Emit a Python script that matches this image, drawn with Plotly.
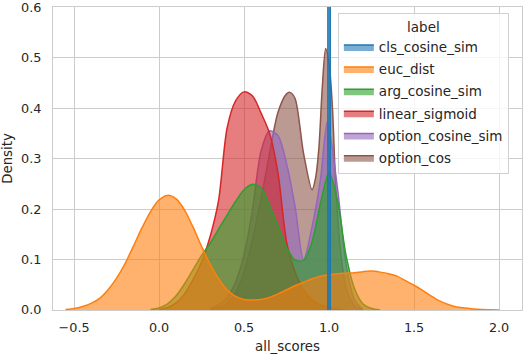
import plotly.graph_objects as go

# density curves (x = all_scores, y = density)
labels = ['cls_cosine_sim', 'euc_dist', 'arg_cosine_sim', 'linear_sigmoid', 'option_cosine_sim', 'option_cos']
colors = ['#1f77b4', '#ff7f0e', '#2ca02c', '#d62728', '#9467bd', '#8c564b']

cls_x = [0.993, 1.0, 1.007]
cls_y = [0.0, 30.0, 0.0]

euc_x = [-0.55, -0.5, -0.45, -0.4, -0.35, -0.3, -0.25, -0.2, -0.15, -0.1, -0.05, 0.0, 0.05, 0.1, 0.15,
         0.2, 0.25, 0.3, 0.35, 0.4, 0.45, 0.5, 0.55, 0.6, 0.65, 0.7, 0.75, 0.8, 0.85, 0.9, 0.95, 1.0,
         1.05, 1.1, 1.15, 1.2, 1.25, 1.3, 1.35, 1.4, 1.45, 1.5, 1.55, 1.6, 1.65, 1.7, 1.75, 1.8, 1.85,
         1.9, 1.95, 2.0]
euc_y = [0.001, 0.003, 0.007, 0.013, 0.023, 0.04, 0.063, 0.092, 0.127, 0.163, 0.195, 0.218, 0.227,
         0.22, 0.198, 0.164, 0.126, 0.091, 0.062, 0.04, 0.027, 0.021, 0.02, 0.021, 0.025, 0.032, 0.04,
         0.048, 0.055, 0.062, 0.067, 0.07, 0.072, 0.073, 0.074, 0.076, 0.077, 0.075, 0.072, 0.067,
         0.058, 0.049, 0.039, 0.028, 0.018, 0.011, 0.006, 0.004, 0.002, 0.001, 0.0005, 0.0]

arg_x = [-0.05, 0.0, 0.05, 0.1, 0.15, 0.2, 0.25, 0.3, 0.35, 0.4, 0.45, 0.5, 0.55, 0.6, 0.65, 0.7,
         0.75, 0.8, 0.85, 0.9, 0.95, 1.0, 1.05, 1.1, 1.15, 1.2, 1.25, 1.3]
arg_y = [0.001, 0.004, 0.012, 0.028, 0.052, 0.08, 0.108, 0.132, 0.16, 0.188, 0.215, 0.238, 0.249,
         0.242, 0.207, 0.166, 0.124, 0.099, 0.098, 0.135, 0.212, 0.273, 0.216, 0.108, 0.042, 0.012,
         0.003, 0.0]

lin_x = [0.0, 0.05, 0.1, 0.15, 0.2, 0.25, 0.3, 0.35, 0.4, 0.45, 0.5, 0.55, 0.6, 0.65, 0.7, 0.75,
         0.8, 0.85, 0.9, 0.95, 1.0, 1.05, 1.1]
lin_y = [0.001, 0.005, 0.014, 0.032, 0.06, 0.095, 0.145, 0.217, 0.36, 0.414, 0.432, 0.424, 0.39,
         0.35, 0.27, 0.135, 0.075, 0.04, 0.02, 0.01, 0.005, 0.002, 0.0]

opt_sim_x = [0.3, 0.35, 0.4, 0.45, 0.5, 0.55, 0.6, 0.65, 0.7, 0.75, 0.8, 0.85, 0.9, 0.95, 0.99,
             1.05, 1.1, 1.15, 1.2]
opt_sim_y = [0.003, 0.01, 0.025, 0.055, 0.11, 0.2, 0.315, 0.355, 0.345, 0.29, 0.205, 0.1, 0.165,
             0.26, 0.373, 0.24, 0.09, 0.02, 0.0]

opt_cos_x = [0.3, 0.35, 0.4, 0.45, 0.5, 0.55, 0.6, 0.65, 0.7, 0.75, 0.77, 0.8, 0.85, 0.9, 0.92,
             0.94, 0.96, 0.98, 1.0, 1.02, 1.04, 1.07, 1.1, 1.15, 1.2]
opt_cos_y = [0.001, 0.004, 0.013, 0.035, 0.075, 0.14, 0.22, 0.31, 0.392, 0.428, 0.431, 0.419, 0.31,
             0.238, 0.26, 0.32, 0.44, 0.518, 0.489, 0.4, 0.24, 0.11, 0.045, 0.008, 0.0]

series = {
    'cls_cosine_sim': (cls_x, cls_y),
    'euc_dist': (euc_x, euc_y),
    'arg_cosine_sim': (arg_x, arg_y),
    'linear_sigmoid': (lin_x, lin_y),
    'option_cosine_sim': (opt_sim_x, opt_sim_y),
    'option_cos': (opt_cos_x, opt_cos_y),
}


def rgba(hex_color, a):
    h = hex_color.lstrip('#')
    return 'rgba(%d,%d,%d,%s)' % (int(h[0:2], 16), int(h[2:4], 16), int(h[4:6], 16), a)


fig = go.Figure()
# seaborn draws the last hue level first, so go in reverse
for i in reversed(range(len(labels))):
    name = labels[i]
    xs, ys = series[name]
    # the cls spike is far too narrow for a spline
    shape = 'linear' if name == 'cls_cosine_sim' else 'spline'
    fig.add_trace(go.Scatter(
        x=xs, y=ys, name=name, mode='lines',
        line=dict(color=colors[i], width=1.5, shape=shape, smoothing=0.8),
        fill='tozeroy', fillcolor=rgba(colors[i], 0.6),
        legendrank=i + 1, legendgroup=name,
    ))

font = 'DejaVu Sans'
fig.update_layout(
    width=524, height=356,
    margin=dict(l=53, r=2, t=7, b=46),
    paper_bgcolor='white', plot_bgcolor='white',
    font=dict(family=font, size=12.8, color='#262626'),
    showlegend=True,
    legend=dict(
        title=dict(text='label', side='top center', font=dict(size=13.5)),
        font=dict(size=13.5),
        x=0.972, xanchor='right', y=0.98, yanchor='top',
        bgcolor='rgba(255,255,255,0.8)', bordercolor='#d0d0d0', borderwidth=1,
        traceorder='grouped', tracegroupgap=1.6,
    ),
)
fig.update_xaxes(
    range=[-0.624, 2.135], tickvals=[-0.5, 0.0, 0.5, 1.0, 1.5, 2.0],
    ticktext=['\u22120.5', '0.0', '0.5', '1.0', '1.5', '2.0'],
    showgrid=True, gridcolor='#cccccc', gridwidth=1, zeroline=False, automargin=False,
    showline=True, linecolor='#cccccc', mirror=True, ticks='', ticklabelstandoff=6,
    ticklabeloverflow='allow',
    title=dict(text='all_scores', font=dict(size=13.3), standoff=7),
)
fig.update_yaxes(
    range=[0, 0.6001], tickvals=[0.0, 0.1, 0.2, 0.3, 0.4, 0.5, 0.6],
    ticktext=['0.0', '0.1', '0.2', '0.3', '0.4', '0.5', '0.6'],
    showgrid=True, gridcolor='#cccccc', gridwidth=1, zeroline=False, automargin=False,
    showline=True, linecolor='#cccccc', mirror=True, ticks='', ticklabelstandoff=8,
    ticklabeloverflow='allow',
    title=dict(text='Density', font=dict(size=13.3), standoff=6),
)

# drop the browser's default page margin so the figure sits at the window corner
fig.write_html('out.html', config={'displayModeBar': False},
               post_script="document.body.style.margin='0';")
